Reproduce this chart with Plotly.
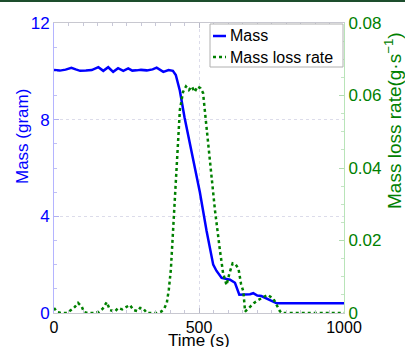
import plotly.graph_objects as go

# Sample mass (g) over time (s)
mass_t = [0, 20, 40, 60, 75, 90, 110, 130, 153, 170, 187, 204, 221, 239, 256, 270,
          285, 300, 320, 340, 354, 377, 395, 410, 420, 434, 450, 469, 485, 503, 526,
          538, 549, 560, 578, 607, 624, 639, 660, 676, 687, 701, 715, 739, 768, 800, 1000]
mass_g = [10.05, 10.03, 10.07, 10.15, 10.08, 10.02, 10.03, 10.05, 10.17, 10.02, 10.17,
          9.98, 10.13, 10.02, 10.12, 10.03, 10.04, 10.06, 10.04, 10.08, 10.15, 9.98,
          10.05, 10.02, 9.85, 9.2, 8.1, 7.0, 6.0, 5.0, 3.4, 2.6, 2.0, 1.75, 1.45, 1.38,
          1.25, 0.76, 0.77, 0.78, 0.82, 0.72, 0.7, 0.57, 0.4, 0.4, 0.4]

# Mass loss rate (g/s) over time (s)
rate_t = [0, 10, 25, 45, 62, 72, 83, 96, 103, 115, 140, 155, 168, 182, 193, 210, 221,
          235, 250, 262, 274, 288, 297, 308, 320, 355, 370, 380, 389, 396, 403, 412,
          423, 434, 445, 455, 465, 475, 485, 495, 505, 514, 525, 538, 555, 572, 583,
          595, 605, 616, 625, 636, 645, 653, 659, 676, 690, 705, 720, 736, 756, 779,
          786, 1000]
rate_gs = [0.0014, 0.0003, 0.0, 0.0, 0.001, 0.0017, 0.0028, 0.0017, 0.0003, 0.0, 0.0,
           0.0003, 0.0012, 0.003, 0.0008, 0.0004, 0.0014, 0.001, 0.0017, 0.0022, 0.0008,
           0.0005, 0.0014, 0.0012, 0.0, 0.0, 0.0004, 0.0012, 0.0028, 0.0065, 0.012,
           0.025, 0.042, 0.056, 0.061, 0.0625, 0.0615, 0.0625, 0.061, 0.0625, 0.062,
           0.0607, 0.052, 0.042, 0.0284, 0.0174, 0.011, 0.0077, 0.011, 0.0137, 0.0135,
           0.0123, 0.008, 0.0059, 0.0004, 0.0017, 0.0028, 0.0036, 0.0042, 0.005, 0.004,
           0.0005, 0.0, 0.0]

x_ticks = [0, 500, 1000]
mass_ticks = [0, 4, 8, 12]
rate_ticks = [0, 0.02, 0.04, 0.06, 0.08]
rate_labels = ["0", "0.02", "0.04", "0.06", "0.08"]

BLUE = "#0000FF"
GREEN = "#008000"
FONT = "Arial, Liberation Sans, sans-serif"

fig = go.Figure()
fig.add_trace(go.Scatter(x=mass_t, y=mass_g, mode="lines", name="Mass",
                         line=dict(color=BLUE, width=2.5), yaxis="y",
                         showlegend=False))
fig.add_trace(go.Scatter(x=rate_t, y=rate_gs, mode="lines", name="Mass loss rate",
                         line=dict(color=GREEN, width=2.5, dash="dot"), yaxis="y2",
                         showlegend=False))

W, H = 405, 347
ml, mr, mt, mb = 54, 61, 23, 34
pw, ph = W - ml - mr, H - mt - mb

def px_x(px):
    return (px - ml) / pw

def px_y(py):
    return 1 - (py - mt) / ph

shapes = [
    # dark rule along the top edge of the page
    dict(type="line", xref="paper", yref="paper", x0=px_x(0), x1=px_x(W),
         y0=px_y(1), y1=px_y(1), line=dict(color="#1d4d2d", width=2)),
    # legend box
    dict(type="rect", xref="paper", yref="paper", x0=px_x(210), x1=px_x(343),
         y0=px_y(67), y1=px_y(24), fillcolor="white",
         line=dict(color="#b0b0b0", width=1)),
    dict(type="line", xref="paper", yref="paper", x0=px_x(213), x1=px_x(226),
         y0=px_y(36), y1=px_y(36), line=dict(color=BLUE, width=2.5)),
    dict(type="line", xref="paper", yref="paper", x0=px_x(213), x1=px_x(226),
         y0=px_y(57), y1=px_y(57), line=dict(color=GREEN, width=2.5, dash="dot")),
]

annotations = [
    dict(text="Mass", xref="paper", yref="paper", x=px_x(228), y=px_y(36),
         xanchor="left", yanchor="middle", showarrow=False,
         font=dict(family=FONT, size=16, color="black")),
    dict(text="Mass loss rate", xref="paper", yref="paper", x=px_x(228), y=px_y(57),
         xanchor="left", yanchor="middle", showarrow=False,
         font=dict(family=FONT, size=16, color="black")),
    dict(text="Time (s)", xref="paper", yref="paper", x=px_x(199), y=px_y(340),
         xanchor="center", yanchor="middle", showarrow=False,
         font=dict(family=FONT, size=17, color="black")),
    dict(text="Mass (gram)", xref="paper", yref="paper", x=px_x(22), y=px_y(137),
         xanchor="center", yanchor="middle", showarrow=False, textangle=-90,
         font=dict(family=FONT, size=17, color=BLUE)),
    dict(text="Mass loss rate(g·s<sup>−1</sup>)", xref="paper", yref="paper",
         x=px_x(393), y=px_y(121), xanchor="center", yanchor="middle",
         showarrow=False, textangle=-90,
         font=dict(family=FONT, size=19, color=GREEN)),
]

fig.update_layout(
    width=W, height=H,
    margin=dict(l=ml, r=mr, t=mt, b=mb),
    paper_bgcolor="white", plot_bgcolor="white",
    font=dict(family=FONT, size=16),
    shapes=shapes, annotations=annotations,
    xaxis=dict(range=[0, 1000], tickvals=x_ticks, ticks="inside", ticklen=5,
               tickcolor="#b8b8c8", showline=True, linecolor="#c8c8d0", linewidth=1,
               mirror="ticks", showgrid=True, gridcolor="#dcdcea", griddash="dot",
               zeroline=False, tickfont=dict(color="black", size=16),
               minor=dict(dtick=50, ticks="inside", ticklen=3, tickcolor="#c8c8d8",
                          showgrid=False)),
    yaxis=dict(range=[0, 12], tickvals=mass_ticks, ticks="inside", ticklen=5,
               tickcolor="#b0b0f0", showline=True, linecolor="#b4b4ff", linewidth=1,
               showgrid=True, gridcolor="#dcdcea", griddash="dot", zeroline=False,
               tickfont=dict(color=BLUE, size=17),
               minor=dict(dtick=1, ticks="inside", ticklen=3, tickcolor="#c0c0f4",
                          showgrid=False)),
    yaxis2=dict(range=[0, 0.08], tickvals=rate_ticks, ticktext=rate_labels,
                overlaying="y", side="right", ticks="inside", ticklen=5,
                tickcolor="#b0dcb0", showline=True, linecolor="#b8e4b8", linewidth=1,
                showgrid=False, zeroline=False, tickfont=dict(color=GREEN, size=17),
                minor=dict(dtick=0.005, ticks="inside", ticklen=3, tickcolor="#c4e4c4",
                           showgrid=False)),
)

fig.write_html("out.html")
